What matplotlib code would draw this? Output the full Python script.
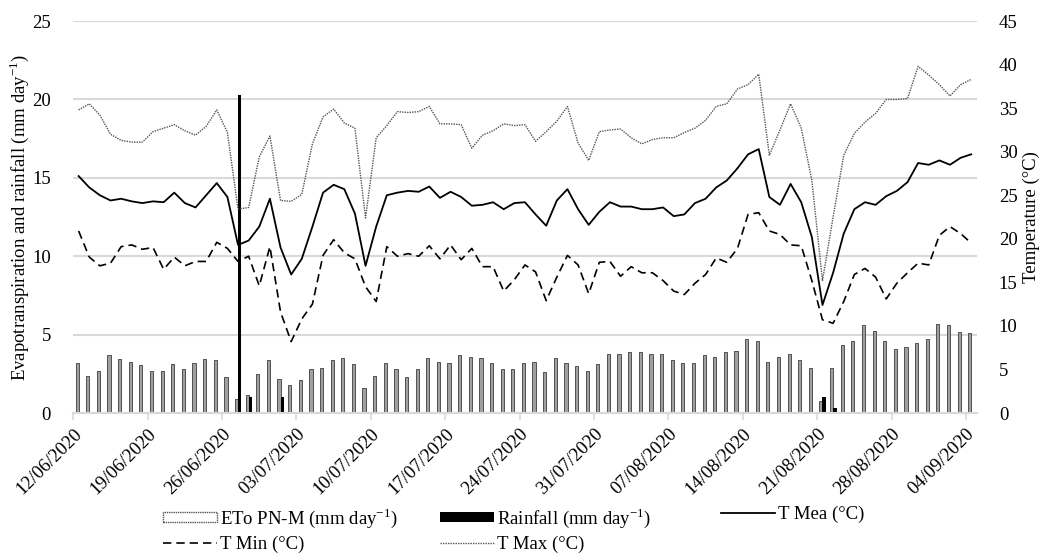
import matplotlib
matplotlib.use("Agg")
import matplotlib.pyplot as plt
import numpy as np
from matplotlib.patches import Patch
from matplotlib.lines import Line2D

plt.rcParams['font.family'] = ['Liberation Serif', 'DejaVu Serif']
plt.rcParams['mathtext.fontset'] = 'custom'
plt.rcParams['mathtext.rm'] = 'Liberation Serif'

# daily values 12/06/2020 .. 04/09/2020
eto = [3.19, 2.38, 2.68, 3.68, 3.47, 3.28, 3.09, 2.68, 2.68, 3.10, 2.79, 3.19, 3.47, 3.38, 2.28,
       0.90, 1.17, 2.51, 3.40, 2.19, 1.79, 2.09, 2.79, 2.90, 3.40, 3.49, 3.10, 1.60, 2.38, 3.19, 2.79,
       2.28, 2.79, 3.49, 3.28, 3.19, 3.68, 3.57, 3.49, 3.19, 2.79, 2.79, 3.19, 3.28, 2.60, 3.49,
       3.19, 3.00, 2.68, 3.10, 3.79, 3.79, 3.89, 3.89, 3.79, 3.79, 3.38, 3.19, 3.19, 3.68, 3.57,
       3.89, 3.96, 4.70, 4.57, 3.28, 3.57, 3.79, 3.38, 2.90, 0.79, 2.90, 4.32, 4.57, 5.59, 5.25,
       4.57, 4.08, 4.19, 4.49, 4.70, 5.68, 5.59, 5.19, 5.08]
rain = [0, 0, 0, 0, 0, 0, 0, 0, 0, 0, 0, 0, 0, 0, 0,
        20.3, 1.0, 0, 0, 1.0, 0, 0, 0, 0, 0, 0, 0, 0, 0, 0, 0,
        0, 0, 0, 0, 0, 0, 0, 0, 0, 0, 0, 0, 0, 0, 0,
        0, 0, 0, 0, 0, 0, 0, 0, 0, 0, 0, 0, 0, 0, 0,
        0, 0, 0, 0, 0, 0, 0, 0, 0, 1.0, 0.3, 0, 0, 0, 0,
        0, 0, 0, 0, 0, 0, 0, 0, 0]
t_max = [34.8, 35.5, 34.2, 32.0, 31.3, 31.1, 31.1, 32.3, 32.7, 33.1, 32.4, 31.9, 32.9, 34.8, 32.2,
         23.4, 23.6, 29.4, 31.8, 24.4, 24.3, 25.1, 30.9, 34.0, 34.9, 33.3, 32.7, 22.4, 31.6, 33.0, 34.6,
         34.5, 34.6, 35.2, 33.2, 33.2, 33.1, 30.4, 31.9, 32.4, 33.2, 33.0, 33.1, 31.2, 32.3, 33.5,
         35.2, 31.0, 29.0, 32.3, 32.5, 32.6, 31.6, 30.9, 31.4, 31.6, 31.6, 32.2, 32.7, 33.6, 35.2,
         35.5, 37.2, 37.7, 38.9, 29.6, 32.5, 35.5, 32.7, 26.7, 15.2, 22.5, 29.6, 32.1, 33.4, 34.4,
         36.0, 36.0, 36.1, 39.8, 38.8, 37.7, 36.4, 37.7, 38.3]
t_mea = [27.2, 25.9, 25.0, 24.4, 24.6, 24.3, 24.1, 24.3, 24.2, 25.3, 24.1, 23.6, 25.0, 26.4, 24.8,
         19.3, 19.8, 21.4, 24.6, 19.0, 15.9, 17.7, 21.4, 25.3, 26.2, 25.7, 22.9, 16.9, 21.4, 25.0, 25.3,
         25.5, 25.4, 26.0, 24.7, 25.4, 24.8, 23.8, 23.9, 24.2, 23.4, 24.1, 24.2, 22.8, 21.5, 24.4,
         25.7, 23.4, 21.6, 23.1, 24.2, 23.7, 23.7, 23.4, 23.4, 23.6, 22.6, 22.8, 24.1, 24.6, 25.9,
         26.7, 28.1, 29.7, 30.3, 24.8, 23.9, 26.3, 24.2, 20.2, 12.4, 16.1, 20.6, 23.4, 24.2, 23.9,
         24.9, 25.5, 26.5, 28.7, 28.5, 29.0, 28.5, 29.3, 29.7]
t_min = [20.9, 17.9, 16.9, 17.2, 19.1, 19.3, 18.8, 19.0, 16.5, 17.9, 16.9, 17.4, 17.4, 19.6, 18.9,
         17.4, 18.0, 14.6, 19.1, 11.6, 8.2, 10.8, 12.5, 18.1, 19.9, 18.4, 17.7, 14.5, 12.8, 19.1, 18.0,
         18.3, 18.0, 19.2, 17.7, 19.3, 17.6, 18.9, 16.8, 16.8, 14.0, 15.3, 17.0, 16.2, 12.9, 15.6,
         18.1, 17.0, 13.7, 17.3, 17.4, 15.7, 16.8, 16.1, 16.1, 15.2, 14.0, 13.6, 14.9, 15.9, 17.8,
         17.3, 18.9, 22.8, 23.0, 20.9, 20.5, 19.3, 19.2, 15.2, 10.7, 10.3, 12.8, 15.9, 16.6, 15.6,
         13.1, 14.9, 16.1, 17.2, 17.0, 20.4, 21.4, 20.6, 19.5]
tick_labels = ['12/06/2020', '19/06/2020', '26/06/2020', '03/07/2020', '10/07/2020',
               '17/07/2020', '24/07/2020', '31/07/2020', '07/08/2020', '14/08/2020',
               '21/08/2020', '28/08/2020', '04/09/2020']

days = np.arange(len(eto))
fs = 13.5

fig = plt.figure(figsize=(10.4, 5.54), dpi=100)
ax = fig.add_axes([0.0705, 0.2545, 0.8685, 0.7075])
ax2 = ax.twinx()

ax.bar(days + 0.36, eto, width=0.3, color='#a0a0a0', edgecolor='#3c3c3c',
       linewidth=0.6, zorder=2)
ax.bar(days + 0.66, rain, width=0.32, color='black', zorder=3)

ax2.plot(days + 0.5, t_mea, color='black', lw=1.3)
ax2.plot(days + 0.5, t_min, color='black', lw=1.2, ls=(0, (5, 3)))
ax2.plot(days + 0.5, t_max, color='#555555', lw=1.0, ls=(0, (1, 0.8)))

ax.set_xlim(0, len(eto))
ax.set_ylim(0, 25)
ax2.set_ylim(0, 45)
ax.set_yticks(range(0, 26, 5))
ax2.set_yticks(range(0, 46, 5))
ax.grid(axis='y', color='#d9d9d9', lw=1.5, zorder=0)
ax.set_axisbelow(True)

ax.set_xticks(np.arange(0, len(eto), 7))
ax.set_xticklabels(tick_labels, rotation=45, ha='right', rotation_mode='anchor')

for a in (ax, ax2):
    for s in ('top', 'left', 'right'):
        a.spines[s].set_visible(False)
    a.spines['bottom'].set_color('#d9d9d9')
    a.spines['bottom'].set_linewidth(1.5)
ax.tick_params(axis='y', length=0, labelsize=fs, pad=16)
ax2.tick_params(axis='y', length=0, labelsize=fs, pad=16)
ax.tick_params(axis='x', length=5, color='#d9d9d9', width=1.2, labelsize=fs, pad=4)

ax.set_ylabel('Evapotranspiration and rainfall (mm day$^{-1}$)', fontsize=fs, labelpad=1)
ax2.set_ylabel('Temperature (°C)', fontsize=fs, labelpad=4)

eto_h = Patch(facecolor='white', edgecolor='#555555', lw=1.0, ls=(0, (1, 0.6)))
rain_h = Patch(facecolor='black')
mea_h = Line2D([], [], color='black', lw=1.3)
min_h = Line2D([], [], color='black', lw=1.2, ls=(0, (5, 3)))
max_h = Line2D([], [], color='#555555', lw=1.0, ls=(0, (1, 0.8)))

legend_cols = [
    ([eto_h, min_h], ['ETo PN-M (mm day$^{-1}$)', 'T Min (°C)'], 163),
    ([rain_h, max_h], ['Rainfall (mm day$^{-1}$)', 'T Max (°C)'], 440),
    ([mea_h], ['T Mea (°C)'], 721),
]
for hs, ls_, x0 in legend_cols:
    fig.legend(hs, ls_, loc='upper left', bbox_to_anchor=(x0 / 1040, 1 - 506 / 554),
               frameon=False, fontsize=fs, handlelength=2.9, handleheight=0.45,
               handletextpad=0.12, labelspacing=0.3, borderpad=0, borderaxespad=0)

fig.savefig('out.png', dpi=100)
